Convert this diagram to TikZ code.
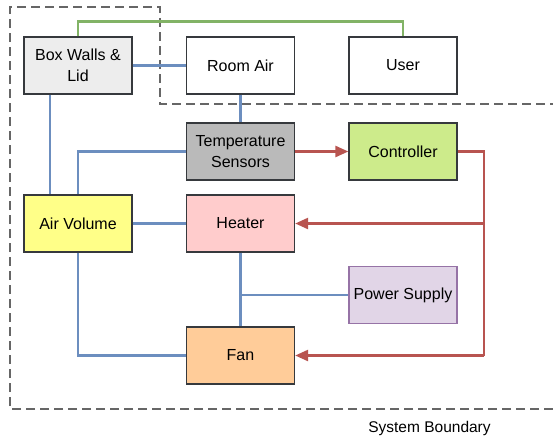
\documentclass[tikz,border=0pt]{standalone}
\usepackage{fontspec}
\setmainfont{Liberation Sans}
\usetikzlibrary{arrows.meta}
\definecolor{bdr}{HTML}{36393D}
\definecolor{cblue}{HTML}{6C8EBF}
\definecolor{cred}{HTML}{B85450}
\definecolor{cgreen}{HTML}{82B366}
\definecolor{cgray}{HTML}{666666}
\tikzset{
  blk/.style={draw=bdr, line width=1.3pt, minimum width=108pt, minimum height=57pt, inner sep=2pt, align=center, font=\fontsize{16}{20.5}\selectfont},
  bl/.style={draw=cblue, line width=2.5pt},
  rd/.style={draw=cred, line width=2.5pt, -{Triangle[length=13pt,width=11pt]}},
  rdl/.style={draw=cred, line width=2.5pt},
  gr/.style={draw=cgreen, line width=2.5pt},
  bnd/.style={draw=cgray, line width=2.4pt, dash pattern=on 9pt off 5pt},
}
\begin{document}
\begin{tikzpicture}[x=1pt,y=-1pt]
\useasboundingbox (0,0) rectangle (553,439);
% boundary
\coordinate (b1) at (553,409);
\coordinate (b2) at (10,409);
\coordinate (b5) at (160,104);
\coordinate (b6) at (553,104);
\draw[bnd] (b1) -- (b2) -- (10,7) -- (160,7) -- (b5) -- (b6);
\node[font=\fontsize{15.5}{18}\selectfont, anchor=center] (sb) at (429.5,428) {System Boundary};
% nodes
\node[blk, fill=black!7] (walls) at (78,65.5) {Box Walls \&\\Lid};
\node[blk, fill=white] (room) at (240.5,65.5) {Room Air};
\node[blk, fill=white] (user) at (403,65.5) {User};
\node[blk, fill=black!27] (temp) at (240.5,151.5) {Temperature\\Sensors};
\node[blk, fill={rgb,255:red,205;green,235;blue,139}] (ctrl) at (403,151.5) {Controller};
\node[blk, fill={rgb,255:red,255;green,255;blue,136}] (air) at (78,223.5) {Air Volume};
\node[blk, fill={rgb,255:red,255;green,204;blue,204}] (heat) at (240.5,223.5) {Heater};
\node[blk, draw={rgb,255:red,150;green,115;blue,166}, fill={rgb,255:red,225;green,213;blue,231}] (pwr) at (403,295) {Power Supply};
\node[blk, fill={rgb,255:red,255;green,204;blue,153}] (fan) at (240.5,355.5) {Fan};
% green
\draw[gr] (walls.north) -- ++(0,-15) -| (user.north);
% blue
\draw[bl] (walls.east) -- (room.west);
\draw[bl] ([xshift=-28pt]walls.south) -- ([xshift=-28pt]air.north);
\draw[bl] (temp.west) -| (air.north);
\draw[bl] (room.south) -- (temp.north);
\draw[bl] (air.east) -- (heat.west);
\draw[bl] (heat.south) -- (fan.north);
\coordinate (pj) at (heat.south |- pwr.west);
\draw[bl] (pj) -- (pwr.west);
\draw[bl] (air.south) |- (fan.west);
% red
\draw[rd] (temp.east) -- (ctrl.west);
\coordinate (rj) at (484,0);
\draw[rdl] (ctrl.east) -| (rj |- fan.east);
\draw[rd] (rj |- fan.east) -- (fan.east);
\draw[rd] (rj |- heat.east) -- (heat.east);
\end{tikzpicture}
\end{document}
